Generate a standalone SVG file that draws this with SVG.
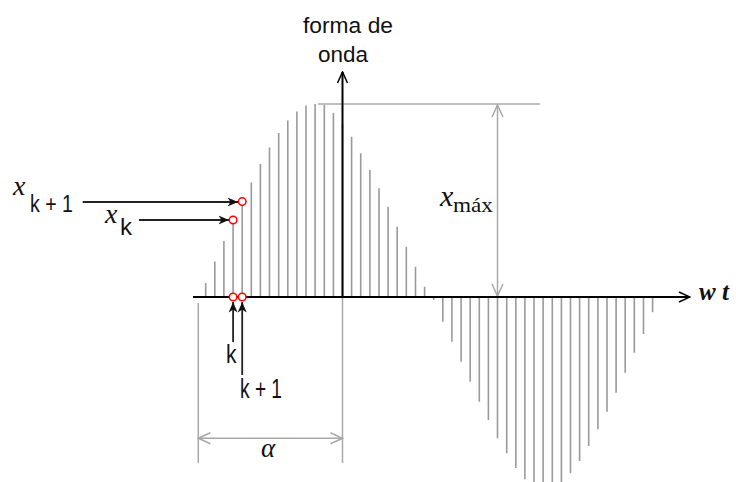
<svg xmlns="http://www.w3.org/2000/svg" width="736" height="482" viewBox="0 0 736 482">
<style>
.bar{stroke:#9a9a9a;stroke-width:1.6;fill:none}
.dim{stroke:#a8a8a8;stroke-width:1.5;fill:none}
.axis{stroke:#000;stroke-width:2;fill:none}
.ptr{stroke:#222;stroke-width:1.8;fill:none}
.pt{stroke:#ff0000;stroke-width:1.5;fill:#fff}
.sans{font-family:"Liberation Sans",Arial,sans-serif;fill:#111}
.serif{font-family:"Liberation Serif","Times New Roman",serif;fill:#111}
.it{font-style:italic}
</style>
<defs>
<marker id="gArr" markerUnits="userSpaceOnUse" markerWidth="14" markerHeight="14" viewBox="0 0 14 14" refX="13" refY="7" orient="auto-start-reverse">
<path d="M1,1.5 L13,7 L1,12.5" fill="none" stroke="#a8a8a8" stroke-width="1.5"/>
</marker>
<marker id="bArr" markerUnits="userSpaceOnUse" markerWidth="14" markerHeight="14" viewBox="0 0 14 14" refX="13" refY="7" orient="auto">
<path d="M2,2 L13,7 L2,12" fill="none" stroke="#000" stroke-width="1.5"/>
</marker>
<marker id="pArr" markerUnits="userSpaceOnUse" markerWidth="11" markerHeight="11" viewBox="0 0 11 11" refX="10.5" refY="5.5" orient="auto">
<path d="M0,1 L10.5,5.5 L0,10 L3,5.5 z" fill="#111"/>
</marker>
</defs>

<g id="bars">
<path class="bar" d="M205.7,297V283 M214.8,297V261.4 M223.9,297V241 M233.1,297V220 M242.2,297V201.4 M251.3,297V182.4 M260.4,297V164 M269.5,297V147.4 M278.7,297V133 M287.8,297V120.4 M296.9,297V111.4 M306,297V105.4 M315.1,297V104 M324.3,297V105 M333.4,297V113 M342.5,297V124 M351.6,297V136.7 M360.7,297V153.3 M369.9,297V170 M379,297V188.3 M388.1,297V206.7 M397.2,297V226.7 M406.3,297V246.7 M415.5,297V266.7 M424.6,297V286.7"/>
<path class="bar" d="M433.7,297V300 M442.8,297V321.7 M451.9,297V341.7 M461.1,297V361.7 M470.2,297V381.7 M479.3,297V401.7 M488.4,297V420 M497.5,297V438.3 M506.7,297V453.3 M515.8,297V468 M524.9,297V479.3 M534,297V487 M543.1,297V490 M552.3,297V489 M561.4,297V482 M570.5,297V473.3 M579.6,297V461 M588.7,297V446 M597.9,297V429.3 M607,297V411.7 M616.1,297V392.7 M625.2,297V372.7 M634.3,297V352.7 M643.5,297V334 M652.6,297V312.3"/>
</g>

<g id="dimensions">
<line class="dim" x1="318" y1="104" x2="540" y2="104"/>
<line class="dim" x1="497.5" y1="105" x2="497.5" y2="296" marker-start="url(#gArr)" marker-end="url(#gArr)"/>
<line class="dim" x1="198.3" y1="303" x2="198.3" y2="463"/>
<line class="dim" x1="342.5" y1="298" x2="342.5" y2="463"/>
<line class="dim" x1="198.3" y1="438.3" x2="342.5" y2="438.3" marker-start="url(#gArr)" marker-end="url(#gArr)"/>
</g>

<g id="axes">
<line class="axis" x1="193" y1="297" x2="690" y2="297" marker-end="url(#bArr)"/>
<line class="axis" x1="342.5" y1="297" x2="342.5" y2="72" marker-end="url(#bArr)"/>
</g>

<g id="connectors">
<line class="ptr" x1="82.7" y1="202" x2="238" y2="202" marker-end="url(#pArr)"/>
<line class="ptr" x1="139" y1="220" x2="229" y2="220" marker-end="url(#pArr)"/>
<line class="ptr" x1="233.1" y1="342" x2="233.1" y2="302" marker-end="url(#pArr)"/>
<line class="ptr" x1="242.2" y1="375" x2="242.2" y2="302" marker-end="url(#pArr)"/>
</g>

<g id="points">
<circle class="pt" cx="233.1" cy="220" r="3.8"/>
<circle class="pt" cx="242.2" cy="201.6" r="3.8"/>
<circle class="pt" cx="233.1" cy="297" r="3.8"/>
<circle class="pt" cx="242.2" cy="297" r="3.8"/>
</g>

<g id="label-forma">
<text class="sans" x="348" y="33" font-size="22" text-anchor="middle" textLength="90" lengthAdjust="spacingAndGlyphs">forma de</text>
<text class="sans" x="343" y="62" font-size="22" text-anchor="middle" textLength="50" lengthAdjust="spacingAndGlyphs">onda</text>
</g>
<g id="label-xk1">
<text class="serif it" x="13" y="195" font-size="28">x</text>
<text class="sans" x="30" y="211.5" font-size="23" textLength="43" lengthAdjust="spacingAndGlyphs">k + 1</text>
</g>
<g id="label-xk">
<text class="serif it" x="105" y="223" font-size="28">x</text>
<text class="sans" x="120" y="235" font-size="24">k</text>
</g>
<g id="label-xmax">
<text class="serif it" x="440" y="206" font-size="30">x</text>
<text class="serif" x="453" y="211.5" font-size="22" textLength="40" lengthAdjust="spacingAndGlyphs">máx</text>
</g>
<g id="label-k">
<text class="sans" x="226" y="363" font-size="25" textLength="10.5" lengthAdjust="spacingAndGlyphs">k</text>
</g>
<g id="label-k1">
<text class="sans" x="240" y="398" font-size="27" textLength="42" lengthAdjust="spacingAndGlyphs">k + 1</text>
</g>
<g id="label-alpha">
<text class="serif it" x="261" y="457" font-size="27">α</text>
</g>
<g id="label-wt">
<text class="serif it" x="699" y="300" font-size="25" font-weight="bold">w t</text>
</g>
</svg>
